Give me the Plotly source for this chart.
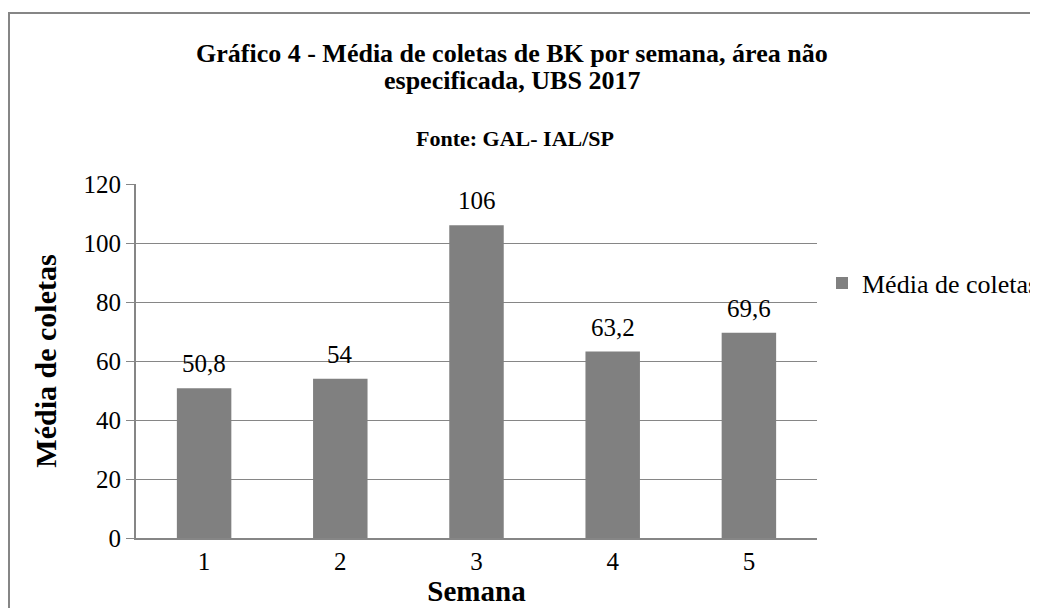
import plotly.graph_objects as go

semanas = ["1", "2", "3", "4", "5"]
media = [50.8, 54, 106, 63.2, 69.6]
labels = ["50,8", "54", "106", "63,2", "69,6"]

W, H = 1038, 608
OFF = 8  # page body margin
L, R, T, B = 128, 229, 176, 78
pw, ph = W - L - R, H - T - B

def px(xs):
    return (xs - OFF - L) / pw

def py(ys):
    return (H - B - (ys - OFF)) / ph

FONT = "Liberation Serif, Times New Roman, serif"

fig = go.Figure()
fig.add_trace(go.Bar(
    x=semanas, y=media, name="Média de coletas",
    marker=dict(color="#808080", line=dict(width=0)),
    width=0.4,
))

annotations = [
    dict(x=i, y=v, text=t, xref="x", yref="y", showarrow=False,
         yanchor="bottom", yshift=9, font=dict(family=FONT, size=25, color="#000"))
    for i, (v, t) in enumerate(zip(media, labels))
]
annotations += [
    dict(text="<b>Gráfico 4 - Média de coletas de BK por semana, área não</b>",
         xref="paper", yref="paper", x=px(512), y=py(53), xanchor="center", yanchor="middle",
         showarrow=False, font=dict(family=FONT, size=26, color="#000")),
    dict(text="<b>especificada, UBS 2017</b>",
         xref="paper", yref="paper", x=px(512), y=py(81), xanchor="center", yanchor="middle",
         showarrow=False, font=dict(family=FONT, size=26, color="#000")),
    dict(text="<b>Fonte: GAL- IAL/SP</b>",
         xref="paper", yref="paper", x=px(515), y=py(139), xanchor="center", yanchor="middle",
         showarrow=False, font=dict(family=FONT, size=22, color="#000")),
]

fig.update_layout(
    width=W, height=H,
    margin=dict(l=L, r=R, t=T, b=B, autoexpand=False),
    paper_bgcolor="white", plot_bgcolor="white",
    font=dict(family=FONT, size=25, color="#000"),
    showlegend=True,
    legend=dict(x=px(822), y=py(283), xanchor="left", yanchor="middle",
                font=dict(family=FONT, size=26, color="#000"),
                bgcolor="rgba(0,0,0,0)"),
    xaxis=dict(type="category", range=[-0.5, 4.5],
               showgrid=False, showline=True, linecolor="#868686", linewidth=2,
               ticks="", tickfont=dict(size=25),
               title=dict(text="<b>Semana</b>", font=dict(size=29), standoff=2)),
    yaxis=dict(range=[0, 120], dtick=20, showgrid=True, gridcolor="#868686", gridwidth=1,
               showline=True, linecolor="#868686", linewidth=2,
               ticks="outside", ticklen=8, tickcolor="#868686", tickwidth=1,
               tickfont=dict(size=25), zeroline=False,
               title=dict(text="<b>Média de coletas</b>", font=dict(size=30), standoff=18)),
    annotations=annotations,
    shapes=[
        dict(type="rect", xref="paper", yref="paper",
             x0=px(9), x1=px(1060), y0=py(625), y1=py(13),
             line=dict(color="#868686", width=2), fillcolor="rgba(0,0,0,0)", layer="below"),
    ],
)

fig.write_html("out.html")
